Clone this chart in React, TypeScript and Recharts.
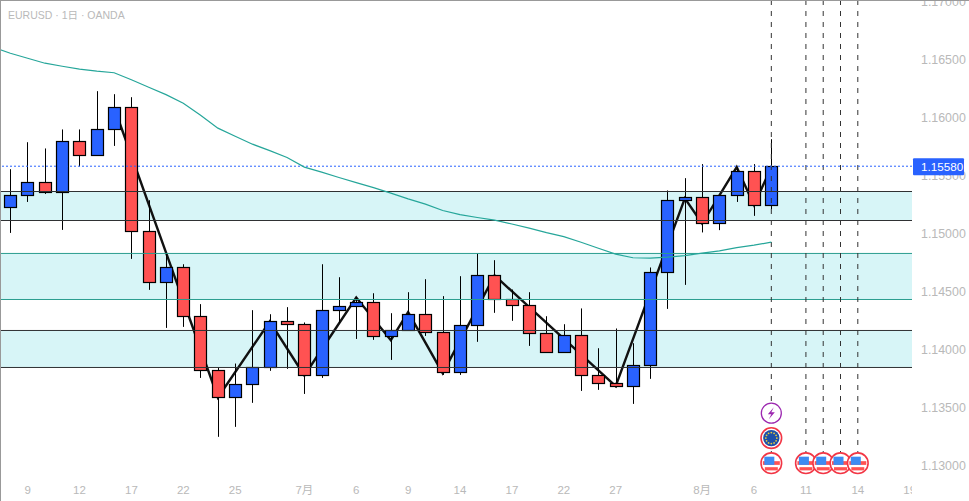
import React from 'react';
import { ComposedChart, Bar, Line, Scatter, XAxis, YAxis, ReferenceArea, ReferenceLine } from "recharts"

const days = [-1, 0, 1, 2, 3, 4, 5, 6, 7, 8, 9, 10, 11, 12, 13, 14, 15, 16, 17, 18, 19, 20, 21, 22, 23, 24, 25, 26, 27, 28, 29, 30, 31, 32, 33, 34, 35, 36, 37, 38, 39, 40, 41, 42, 43, 44]

const opens = [1.15224, 1.15328, 1.15440, 1.15353, 1.15793, 1.15672, 1.15897, 1.16086, 1.15017, 1.14578, 1.14707, 1.14285, 1.13819, 1.13586, 1.13698, 1.13845, 1.14241, 1.14216, 1.13776, 1.14336, 1.14371, 1.14405, 1.14112, 1.14164, 1.14302, 1.14147, 1.13802, 1.14207, 1.14638, 1.14431, 1.14379, 1.14138, 1.13974, 1.14121, 1.13776, 1.13707, 1.13681, 1.13862, 1.14664, 1.15285, 1.15310, 1.15086, 1.15328, 1.15535, 1.15241]
const closes = [1.15328, 1.15440, 1.15353, 1.15793, 1.15672, 1.15897, 1.16086, 1.15017, 1.14578, 1.14707, 1.14285, 1.13819, 1.13586, 1.13698, 1.13845, 1.14241, 1.14216, 1.13776, 1.14336, 1.14371, 1.14405, 1.14112, 1.14164, 1.14302, 1.14147, 1.13802, 1.14207, 1.14638, 1.14431, 1.14379, 1.14138, 1.13974, 1.14121, 1.13776, 1.13707, 1.13681, 1.13862, 1.14664, 1.15285, 1.15310, 1.15086, 1.15328, 1.15535, 1.15241, 1.15580]
const highs = [1.15554, 1.15787, 1.15733, 1.15897, 1.15897, 1.16227, 1.16201, 1.16175, 1.15287, 1.14830, 1.14735, 1.14391, 1.13845, 1.13879, 1.14339, 1.14304, 1.14365, 1.14233, 1.14735, 1.14623, 1.14448, 1.14485, 1.14313, 1.14494, 1.14606, 1.14460, 1.14632, 1.14828, 1.14770, 1.14517, 1.14494, 1.14287, 1.14218, 1.14354, 1.14011, 1.14181, 1.14054, 1.14707, 1.15371, 1.15477, 1.15598, 1.15328, 1.15569, 1.15598, 1.15813]
const lows = [1.15005, 1.15272, 1.15341, 1.15031, 1.15578, 1.15672, 1.15755, 1.14781, 1.14514, 1.14186, 1.14195, 1.13755, 1.13247, 1.13333, 1.13540, 1.13816, 1.13833, 1.13617, 1.13755, 1.14227, 1.14091, 1.14083, 1.13910, 1.14164, 1.14117, 1.13781, 1.13781, 1.14066, 1.14316, 1.14247, 1.14031, 1.13974, 1.14121, 1.13643, 1.13652, 1.13672, 1.13531, 1.13747, 1.14350, 1.14557, 1.15009, 1.15029, 1.15272, 1.15152, 1.15210]

const ema = [1.16606, 1.16554, 1.16511, 1.16468, 1.16442, 1.16417, 1.16399, 1.16386, 1.16326, 1.16261, 1.16197, 1.16123, 1.16020, 1.15908, 1.15839, 1.15770, 1.15714, 1.15655, 1.15572, 1.15529, 1.15483, 1.15438, 1.15395, 1.15348, 1.15298, 1.15253, 1.15198, 1.15162, 1.15138, 1.15115, 1.15082, 1.15046, 1.15007, 1.14973, 1.14925, 1.14873, 1.14822, 1.14791, 1.14787, 1.14796, 1.14810, 1.14830, 1.14850, 1.14878, 1.14899, 1.14925]

const swingDays = [6, 12, 15, 17, 20, 22, 23, 25, 28, 35, 39, 40, 42, 43, 44]
const swingPrices = [1.16086, 1.13586, 1.14241, 1.13776, 1.14448, 1.14080, 1.14322, 1.13796, 1.14638, 1.13684, 1.15304, 1.15086, 1.15572, 1.15244, 1.15572]

const tealZones = [[1.14431, 1.14828]]
const darkZones = [[1.15112, 1.15362], [1.13845, 1.14164]]

const lastPrice = 1.1558
const priceTicks = [1.17, 1.165, 1.16, 1.155, 1.15, 1.145, 1.14, 1.135, 1.13]
const dayTicks = [1, 4, 7, 10, 13, 17, 20, 23, 26, 29, 32, 35, 40, 43, 46, 49, 52]
const dayLabels = ["9", "12", "17", "22", "25", "7月", "6", "9", "14", "17", "22", "27", "8月", "6", "11", "14", "19"]

const eventDays = [44, 46, 47, 48, 49]
const events = [
  { day: 44, price: 1.13451, kind: "bolt" },
  { day: 44, price: 1.13236, kind: "eu" },
  { day: 44, price: 1.1302, kind: "us" },
  { day: 46, price: 1.1302, kind: "us" },
  { day: 47, price: 1.1302, kind: "us" },
  { day: 48, price: 1.1302, kind: "us" },
  { day: 49, price: 1.1302, kind: "us" },
]

const rows = days.map((day, i) => {
  const c = i - 1
  const swing = swingDays.indexOf(day)
  return {
    day,
    ema: ema[i],
    swing: swing >= 0 ? swingPrices[swing] : null,
    open: c >= 0 ? opens[c] : null,
    close: c >= 0 ? closes[c] : null,
    high: c >= 0 ? highs[c] : null,
    low: c >= 0 ? lows[c] : null,
  }
})

const yMin = 1.128922
const yMax = 1.170129
const GREY = "#b9b9b9"
const FONT = '"Liberation Sans", "Noto Sans CJK JP", sans-serif'

function Candle(props: any) {
  const { x, y, width, height, payload } = props
  if (payload.high == null) return null
  const k = height / (payload.high - payload.low)
  const up = payload.close >= payload.open
  const top = Math.floor(y + (payload.high - Math.max(payload.open, payload.close)) * k) + 0.5
  const bottom = Math.floor(y + (payload.high - Math.min(payload.open, payload.close)) * k) + 0.5
  // snap to whole pixels so wicks and outlines stay crisp
  const mid = Math.round(x + width / 2) + 0.5
  return (
    <g>
      <line x1={mid} x2={mid} y1={y} y2={y + height} stroke="#000" strokeWidth={1} />
      <rect x={mid - 6} y={top} width={12} height={Math.max(bottom - top, 1)} fill={up ? "#2962ff" : "#ff5252"} stroke="#000" strokeWidth={1.2} />
    </g>
  )
}

function EventIcon(props: any) {
  const { cx, cy, payload } = props
  if (payload.kind === "bolt") {
    return (
      <g transform={`translate(${cx},${cy})`}>
        <circle r={10} fill="#fff" stroke="#9c27b0" strokeWidth={1.3} />
        <path d="M2.5 -6 L-3.5 1 L0 1 L-2.5 6 L3.5 -1 L0 -1 Z" fill="#9c27b0" />
      </g>
    )
  }
  if (payload.kind === "eu") {
    const stars = [0, 1, 2, 3, 4, 5, 6, 7, 8, 9, 10, 11]
    return (
      <g transform={`translate(${cx},${cy})`}>
        <circle r={10.3} fill="#fff" stroke="#f23645" strokeWidth={1.6} />
        <circle r={8.2} fill="#1e4fa8" />
        {stars.map((s) => (
          <circle key={s} cx={5.5 * Math.cos((s * Math.PI) / 6)} cy={5.5 * Math.sin((s * Math.PI) / 6)} r={0.9} fill="#e8c93a" />
        ))}
      </g>
    )
  }
  return (
    <g transform={`translate(${cx},${cy})`}>
      <circle r={10.3} fill="#fff" stroke="#f23645" strokeWidth={1.6} />
      <rect x={-8.5} y={-2} width={17} height={3.7} fill="#ff5252" />
      <rect x={-6.5} y={4} width={13} height={3.2} fill="#ff5252" />
      <rect x={-7} y={-6.5} width={10} height={8.2} fill="#3d8bf2" />
    </g>
  )
}

function DayTick(props: any) {
  const { x, payload } = props
  const label = dayLabels[dayTicks.indexOf(payload.value)]
  // labels past the plot's right edge are cut off, as in the platform
  return (
    <svg x={0} y={478} width={912} height={23}>
      <text x={x} y={15.5} textAnchor="middle" fontSize={11.5} fontFamily={FONT} fill={GREY}>{label}</text>
    </svg>
  )
}

function PriceTick(props: any) {
  const { y, payload } = props
  if (payload.value === lastPrice) {
    return (
      <g>
        <rect x={913} y={y - 8} width={51} height={17} rx={1} fill="#2962ff" />
        <text x={921} y={y + 4.8} fontSize={11.7} fontFamily={FONT} fill="#fff">{payload.value.toFixed(5)}</text>
      </g>
    )
  }
  return <text x={921} y={y + 4.4} fontSize={12.4} fontFamily={FONT} fill={GREY}>{payload.value.toFixed(5)}</text>
}

export default function App() {
  return (
    <div style={{ position: "absolute", left: 0, top: 0, width: 969, height: 501, background: "#fff" }}>
      <ComposedChart width={969} height={501} data={rows} margin={{ top: 0, right: 0, bottom: 0, left: 0 }}>
        <XAxis
          dataKey="day"
          type="number"
          domain={[-0.598, 52.134]}
          allowDataOverflow
          ticks={dayTicks}
          interval={0}
          height={23}
          axisLine={false}
          tickLine={false}
          tick={<DayTick />}
        />
        <YAxis
          orientation="right"
          type="number"
          width={57}
          domain={[yMin, yMax]}
          allowDataOverflow
          ticks={[...priceTicks, lastPrice]}
          interval={0}
          axisLine={false}
          tickLine={false}
          tick={<PriceTick />}
        />
        {[...darkZones, ...tealZones].map(([y1, y2]) => (
          <ReferenceArea key={y1} y1={y1} y2={y2} fill="#d7f5f7" fillOpacity={1} stroke="none" />
        ))}
        {darkZones.flat().map((y) => (
          <ReferenceLine key={y} y={y} stroke="#2f3133" strokeWidth={1} />
        ))}
        {tealZones.flat().map((y) => (
          <ReferenceLine key={y} y={y} stroke="#2a9d8f" strokeWidth={1} />
        ))}
        {eventDays.map((d) => (
          <ReferenceLine
            key={d}
            segment={[{ x: d, y: yMax }, { x: d, y: 1.1302 }]}
            stroke="#333"
            strokeWidth={1}
            strokeDasharray="5 6"
          />
        ))}
        <ReferenceLine y={lastPrice} stroke="#2962ff" strokeWidth={1} strokeDasharray="2 2" />
        <Line zIndex={250} dataKey="swing" connectNulls stroke="#111" strokeWidth={2.4} dot={false} activeDot={false} legendType="none" isAnimationActive={false} />
        <Bar dataKey={(d: any) => (d.high == null ? null : [d.low, d.high])} barSize={11} shape={<Candle />} isAnimationActive={false} />
        <Line dataKey="ema" stroke="#26a69a" strokeWidth={1.2} dot={false} activeDot={false} isAnimationActive={false} />
        <Scatter data={events} dataKey="price" shape={<EventIcon />} isAnimationActive={false} />
        <text x={8} y={18.5} fontSize={10.5} fontFamily={FONT} fill={GREY}>EURUSD · 1日 · OANDA</text>
      </ComposedChart>
      <div style={{ position: "absolute", left: 0, top: 0, width: 968, height: 500, borderLeft: "1px solid #999", borderTop: "1px solid #999", pointerEvents: "none" }} />
    </div>
  )
}
